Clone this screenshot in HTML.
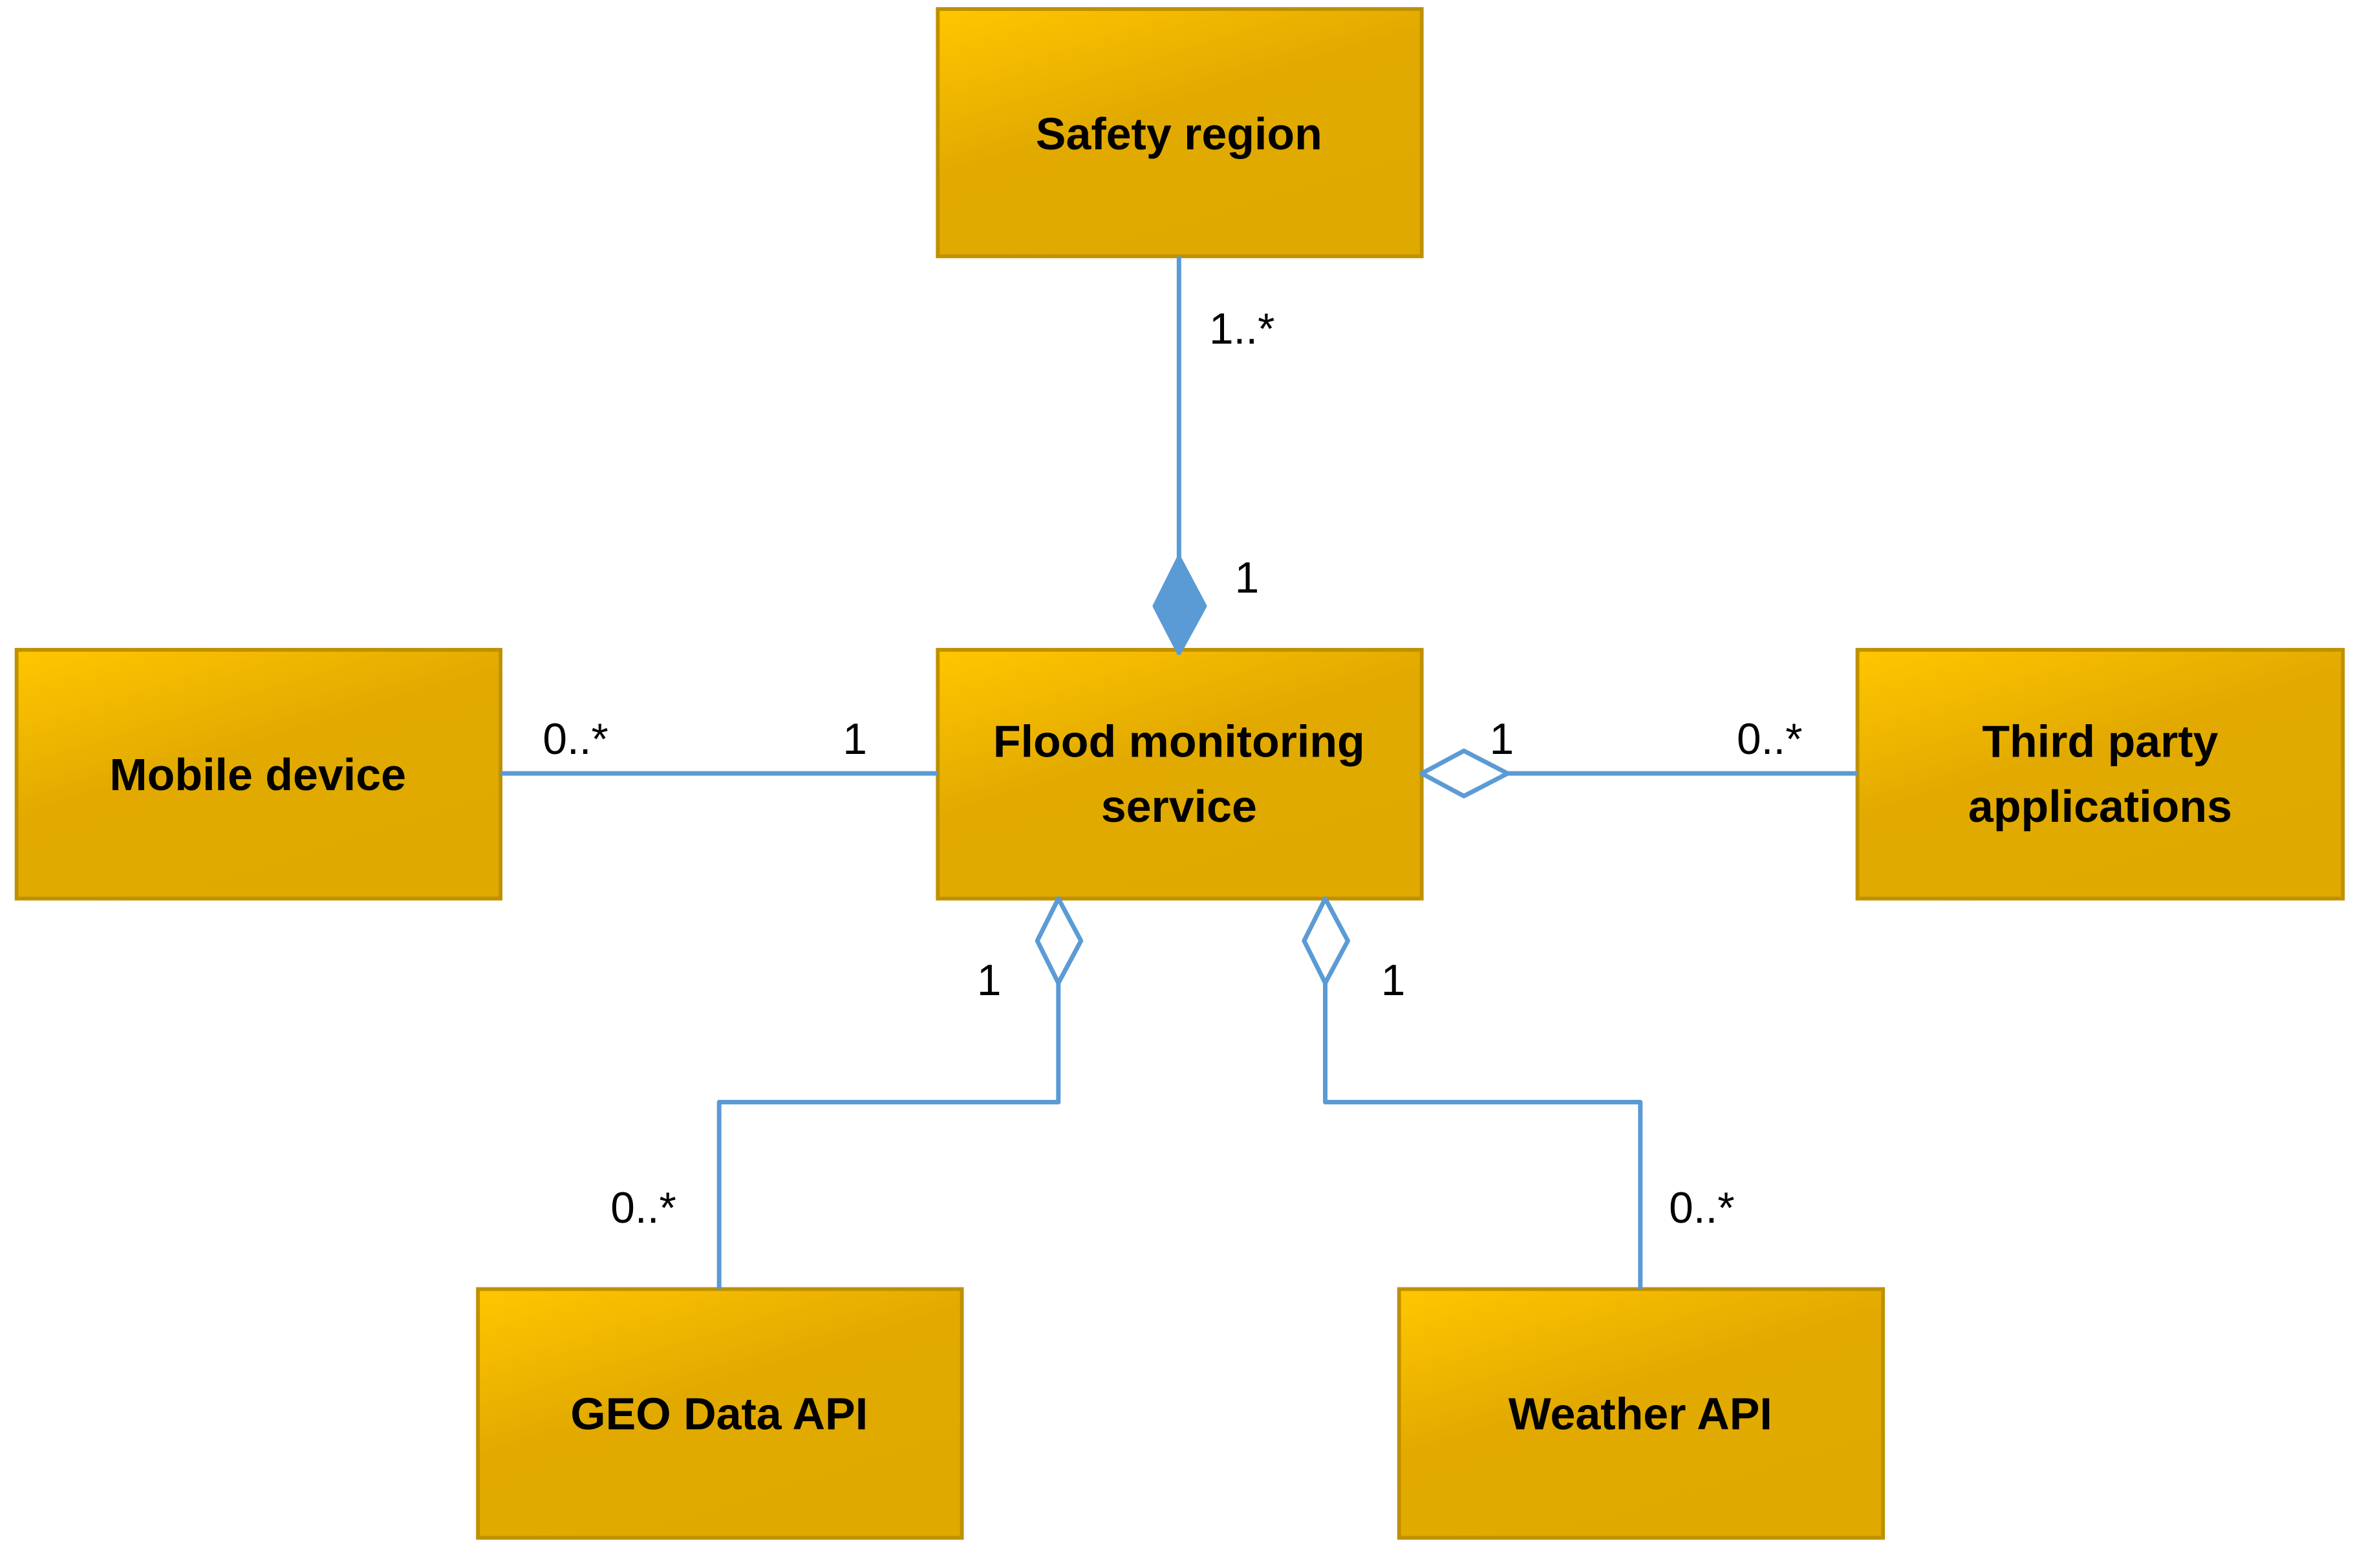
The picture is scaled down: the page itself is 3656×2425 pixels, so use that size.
<!DOCTYPE html>
<html><head><meta charset="utf-8"><style>
html,body{margin:0;padding:0;background:#fff;}
svg{display:block;}
</style></head><body>
<svg width="3656" height="2425" viewBox="0 0 1568 1040" preserveAspectRatio="none" xmlns="http://www.w3.org/2000/svg">
<defs>
<linearGradient id="g" x1="0" y1="0" x2="0.6" y2="1">
<stop offset="0" stop-color="#FFC600"/>
<stop offset="0.5" stop-color="#E2AA00"/>
<stop offset="1" stop-color="#DFA900"/>
</linearGradient>
</defs>
<g stroke="#BF9000" stroke-width="2.5" fill="url(#g)">
<rect x="622" y="6" width="321" height="164"/>
<rect x="622" y="431" width="321" height="165"/>
<rect x="11" y="431" width="321" height="165"/>
<rect x="1232" y="431" width="322" height="165"/>
<rect x="317" y="855" width="321" height="165"/>
<rect x="928" y="855" width="321" height="165"/>
</g>
<g stroke="#5B9BD5" stroke-width="3" fill="none" stroke-linejoin="round">
<line x1="782" y1="170" x2="782" y2="370"/>
<line x1="332" y1="513" x2="622" y2="513"/>
<line x1="1000" y1="513" x2="1232" y2="513"/>
<polyline points="702,652 702,731 477,731 477,855"/>
<polyline points="879,652 879,731 1088,731 1088,855"/>
<polygon points="943,513 971,498 1000,513 971,528" fill="#fff"/>
<polygon points="702,596 717,624 702,652 688,624" fill="#fff"/>
<polygon points="879,596 894,624 879,652 865,624" fill="#fff"/>
<polygon points="782,370 799,402 782,433 766,402" fill="#5B9BD5"/>
</g>
<g font-family="Liberation Sans, sans-serif" font-weight="bold" font-size="30" text-anchor="middle" fill="#000">
<text x="782" y="99">Safety region</text>
<text x="782" y="502">Flood monitoring</text>
<text x="782" y="545">service</text>
<text x="171" y="524">Mobile device</text>
<text x="1393" y="502">Third party</text>
<text x="1393" y="545">applications</text>
<text x="477" y="948">GEO Data API</text>
<text x="1088" y="948">Weather API</text>
</g>
<g font-family="Liberation Sans, sans-serif" font-size="29" fill="#000">
<text x="802" y="228">1..*</text>
<text x="819" y="393">1</text>
<text x="360" y="500">0..*</text>
<text x="559" y="500">1</text>
<text x="988" y="500">1</text>
<text x="1152" y="500">0..*</text>
<text x="648" y="660">1</text>
<text x="916" y="660">1</text>
<text x="405" y="811">0..*</text>
<text x="1107" y="811">0..*</text>
</g>
</svg>
</body></html>
